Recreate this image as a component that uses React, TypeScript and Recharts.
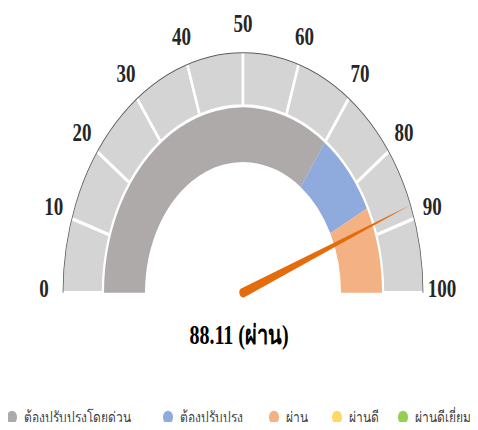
import { PieChart, Pie, Cell } from 'recharts';

// gauge scale, 0..100 in steps of 10
const scaleTicks = [0, 10, 20, 30, 40, 50, 60, 70, 80, 90, 100];

// evaluation bands (inner ring) and legend
const bandNames = ['ต้องปรับปรุงโดยด่วน', 'ต้องปรับปรุง', 'ผ่าน', 'ผ่านดี', 'ผ่านดีเยี่ยม'];
const bandWidths = [70, 15, 15, 0, 0];
const bandColors = ['#aeaaaa', '#8faadc', '#f4b183', '#ffd966', '#92d050'];

const score = 88.11;
const scoreLabel = 'ผ่าน';

const W = 478;
const STRETCH = 4 / 3;
const H = 430 / STRETCH;
const CX = 243;
const CY = 219.5;
const RAD = Math.PI / 180;
// left edge of each legend entry
const legendLeft = [7, 163, 269, 332, 398];

const scaleData = scaleTicks.slice(1).map((t, i) => ({ name: String(t), value: t - scaleTicks[i] }));
const bandData = bandNames.map((name, i) => ({ name, value: bandWidths[i] }));
const needleData = [
  { name: 'score', value: score },
  { name: 'rest', value: scaleTicks[scaleTicks.length - 1] - score },
];

const tickFont = { fontFamily: '"Liberation Serif", "Times New Roman", serif', fontWeight: 700, fontSize: 19, fill: '#262626' };

function tickText(cx: number, cy: number, angle: number, label: number) {
  const r = 199;
  const x = cx + r * Math.cos(angle * RAD);
  const y = cy - r * Math.sin(angle * RAD) - 3;
  return (
    <text key={label} x={x} y={y} textAnchor="middle" dominantBaseline="central" style={tickFont}>
      {label}
    </text>
  );
}

function renderTickLabel(props: any) {
  const { cx, cy, startAngle, endAngle, index } = props;
  return (
    <g>
      {tickText(cx, cy, startAngle, scaleTicks[index])}
      {index === scaleData.length - 1 ? tickText(cx, cy, endAngle, scaleTicks[index + 1]) : null}
    </g>
  );
}

function renderNeedle(props: any) {
  const { cx, cy, endAngle, outerRadius, index } = props;
  if (index !== 0) return null;
  const a = endAngle * RAD;
  const tx = cx + outerRadius * Math.cos(a);
  const ty = cy - outerRadius * Math.sin(a);
  const w = 3.6;
  const px = Math.sin(a) * w;
  const py = Math.cos(a) * w;
  const d = `M${cx + px},${cy + py} L${tx},${ty} L${cx - px},${cy - py} A${w},${w} 0 0 0 ${cx + px},${cy + py} Z`;
  return <path d={d} fill="#e46c0a" />;
}

export default function App() {
  return (
    <div style={{ position: 'relative', width: W, height: 430, margin: -8, overflow: 'hidden', background: '#fff' }}>
      <div style={{ position: 'absolute', left: 0, top: 0, width: W, height: H, transform: `scaleY(${STRETCH})`, transformOrigin: 'top left' }}>
        <PieChart width={W} height={H} margin={{ top: 0, right: 0, bottom: 0, left: 0 }}>
          <Pie
            data={scaleData}
            dataKey="value"
            cx={CX}
            cy={CY}
            startAngle={180}
            endAngle={0}
            innerRadius={140}
            outerRadius={181}
            stroke="#ffffff"
            strokeWidth={2.5}
            fill="#d4d4d4"
            label={renderTickLabel}
            labelLine={false}
            isAnimationActive={false}
          />
          <Pie
            data={[{ name: 'rim', value: 1 }]}
            dataKey="value"
            cx={CX}
            cy={CY}
            startAngle={180}
            endAngle={0}
            innerRadius={180}
            outerRadius={180}
            fill="none"
            stroke="#595959"
            strokeWidth={0.8}
            isAnimationActive={false}
          />
          <Pie
            data={bandData}
            dataKey="value"
            cx={CX}
            cy={CY}
            startAngle={180}
            endAngle={0}
            innerRadius={98}
            outerRadius={139}
            isAnimationActive={false}
          >
            {bandData.map((d, i) => (
              <Cell key={d.name} fill={bandColors[i]} stroke={d.value === 0 ? bandColors[i] : 'none'} strokeWidth={d.value === 0 ? 1 : 0} />
            ))}
          </Pie>
          <Pie
            data={needleData}
            dataKey="value"
            cx={CX}
            cy={CY}
            startAngle={180}
            endAngle={0}
            innerRadius={0}
            outerRadius={180}
            fill="none"
            stroke="none"
            label={renderNeedle}
            labelLine={false}
            isAnimationActive={false}
          />
        </PieChart>
        <div
          style={{
            position: 'absolute',
            left: 0,
            top: 240.5,
            width: W,
            textAlign: 'center',
            fontFamily: '"Liberation Serif", "Times New Roman", serif',
            fontWeight: 700,
            fontSize: 20,
            lineHeight: '20px',
            color: '#000',
          }}
        >
          {score.toFixed(2)} ({scoreLabel})
        </div>
        {bandNames.map((n, i) => (
          <div
            key={n}
            style={{
              position: 'absolute',
              left: legendLeft[i],
              top: 303.5,
              height: 18,
              display: 'flex',
              alignItems: 'center',
              whiteSpace: 'nowrap',
              fontFamily: 'Tahoma, "Noto Sans", "DejaVu Sans", sans-serif',
              fontSize: 12,
              lineHeight: '18px',
              color: '#404040',
            }}
          >
            <span style={{ width: 10, height: 10, borderRadius: 5, background: bandColors[i], display: 'inline-block', marginRight: 7 }} />
            <span>{n}</span>
          </div>
        ))}
      </div>
    </div>
  );
}
